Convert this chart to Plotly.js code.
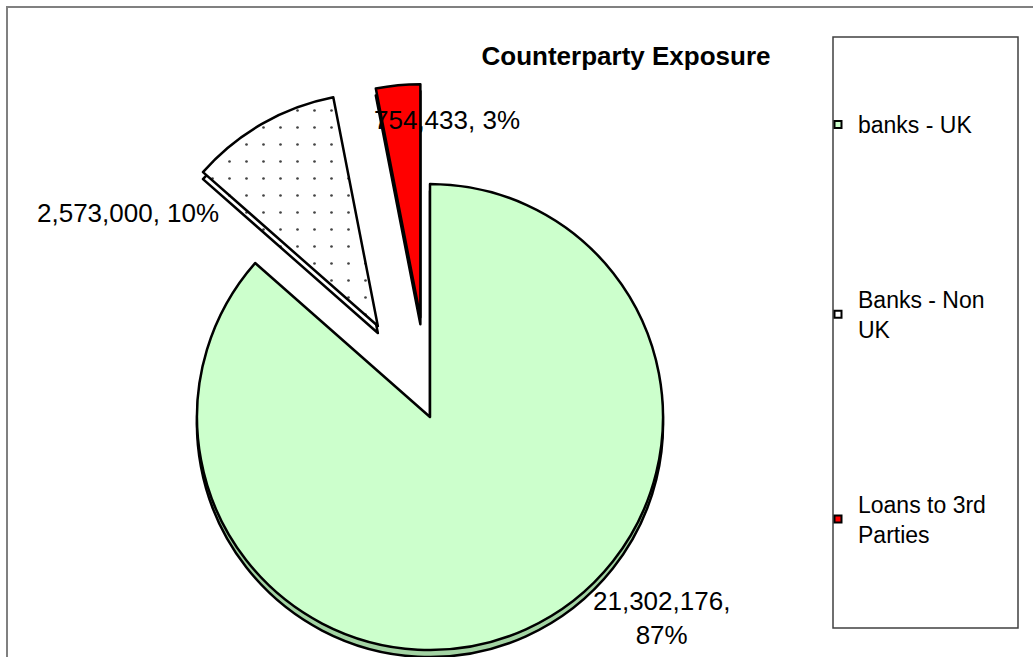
<!DOCTYPE html>
<html>
<head>
<meta charset="utf-8">
<script src="https://cdn.plot.ly/plotly-3.0.1.min.js"></script>
<style>
html, body { margin:0; padding:0; overflow:hidden; background:#fff; }
#chart { width:1033px; height:770px; }
</style>
</head>
<body>
<div id="chart"></div>
<script>
// ---- data ----
const labels = ['banks - UK', 'Banks - Non UK', 'Loans to 3rd Parties'];
const legendNames = ['banks - UK', 'Banks - Non<br>UK', 'Loans to 3rd<br>Parties'];
const values = [21302176, 2573000, 754433];
const percents = [87, 10, 3];
const colors = ['#CCFFCC', '#FFFFFF', '#FF0000'];
const depthColors = ['#A3D3A3', '#FFFFFF', '#4A0000'];
const pulls = [0, 0.45, 0.43];
const title = 'Counterparty Exposure';

// ---- layout helpers ----
const W = 1033, H = 770;
const px = x => x / W;
const py = y => 1 - y / H;
const FONT = 'Liberation Sans, Arial, sans-serif';

const cx = 430, cy = 417, r = 233;
const half = r * (1 + Math.max(...pulls));
const domX = [px(cx - half), px(cx + half)];
const domY = [py(cy + half), py(cy - half)];
const depth = 7;

const fmt = v => v.toLocaleString('en-US');
const labelText = values.map((v, i) => i === 0 ? fmt(v) + ',<br>' + percents[i] + '%' : fmt(v) + ', ' + percents[i] + '%');
const labelPos = [[661, 618], [128, 213], [447, 120]];

const depthTrace = {
  type: 'pie', labels: labels, values: values, sort: false, direction: 'clockwise', rotation: 0,
  pull: pulls, showlegend: false, textinfo: 'none', hoverinfo: 'skip',
  domain: { x: domX, y: [domY[0] - depth / H, domY[1] - depth / H] },
  marker: { colors: depthColors, line: { color: '#000', width: 2.5 },
            pattern: { shape: ['', '.', ''], fgcolor: '#444', bgcolor: depthColors.slice(), size: 17, solidity: 0.02 } }
};
const mainTrace = {
  type: 'pie', labels: labels, values: values, sort: false, direction: 'clockwise', rotation: 0,
  pull: pulls, showlegend: false, textinfo: 'none',
  domain: { x: domX, y: domY },
  marker: { colors: colors, line: { color: '#000', width: 2.5 },
            pattern: { shape: ['', '.', ''], fgcolor: '#444', bgcolor: colors.slice(), size: 17, solidity: 0.02 } }
};
const legendTraces = legendNames.map((n, i) => ({
  type: 'scatter', mode: 'markers', x: [null], y: [null], name: n, legendgroup: 'g' + i,
  showlegend: true, hoverinfo: 'skip',
  marker: { symbol: 'square', size: 7, color: colors[i], line: { color: '#000', width: 2 } }
}));

const annotations = labelText.map((t, i) => ({
  text: t, xref: 'paper', yref: 'paper', x: px(labelPos[i][0]), y: py(labelPos[i][1]),
  xanchor: 'center', yanchor: 'middle', showarrow: false, align: 'center',
  font: { family: FONT, size: 26, color: '#000' }
}));

const layout = {
  width: W, height: H,
  margin: { l: 0, r: 0, t: 0, b: 0, pad: 0 },
  paper_bgcolor: '#fff', plot_bgcolor: '#fff',
  title: { text: '<b>' + title + '</b>', x: px(626), y: py(56), xref: 'paper', yref: 'paper',
           xanchor: 'center', yanchor: 'middle', font: { family: FONT, size: 26, color: '#000' } },
  xaxis: { visible: false }, yaxis: { visible: false },
  showlegend: true,
  legend: { x: px(818), y: py(103), xanchor: 'left', yanchor: 'top', traceorder: 'grouped',
            tracegroupgap: 142, bgcolor: 'rgba(0,0,0,0)', borderwidth: 0,
            font: { family: FONT, size: 23, color: '#000' } },
  annotations: annotations,
  shapes: [
    { type: 'rect', xref: 'paper', yref: 'paper', x0: px(7), x1: px(1045), y0: py(7), y1: -0.1,
      line: { color: '#808080', width: 2 }, fillcolor: 'rgba(0,0,0,0)', layer: 'below' },
    { type: 'rect', xref: 'paper', yref: 'paper', x0: px(833), x1: px(1018), y0: py(37), y1: py(628),
      line: { color: '#404040', width: 1.5 }, fillcolor: 'rgba(0,0,0,0)', layer: 'below' }
  ]
};

Plotly.newPlot('chart', [depthTrace, mainTrace].concat(legendTraces), layout, { displayModeBar: false, staticPlot: true });
</script>
</body>
</html>
